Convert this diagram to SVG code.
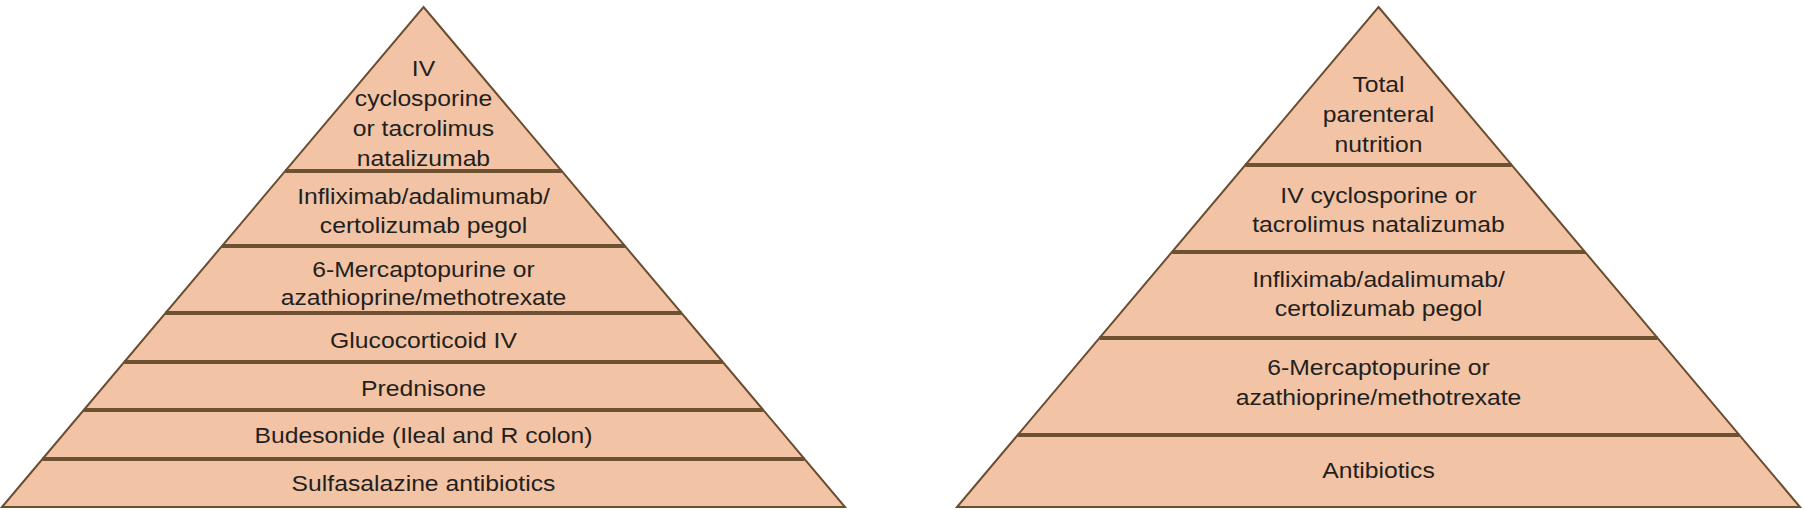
<svg xmlns="http://www.w3.org/2000/svg" width="1805" height="510" viewBox="0 0 1805 510">
<style>
.tier{fill:#f2c4a5;stroke:none}
.outline{fill:none;stroke:#6b4d30;stroke-width:2;stroke-linejoin:miter}
.sep{stroke:#6e5032;stroke-width:4}
.lbl{font-family:"Liberation Sans",Arial,Helvetica,sans-serif;font-size:21.5px;fill:#231f20;text-anchor:middle}
</style>
<rect width="1805" height="510" fill="#ffffff"/>
<g id="left-pyramid">
<g id="L1"><polygon class="tier" points="423.5,7 561.8,171 285.2,171"/>
<g transform="translate(423.5 0) scale(1.15 1)"><text class="lbl" x="0" y="76">IV</text><text class="lbl" x="0" y="106">cyclosporine</text><text class="lbl" x="0" y="136">or tacrolimus</text><text class="lbl" x="0" y="166">natalizumab</text></g></g>
<g id="L2"><polygon class="tier" points="285.2,171 561.8,171 625,246 222,246"/>
<g transform="translate(423.5 0) scale(1.15 1)"><text class="lbl" x="0" y="204">Infliximab/adalimumab/</text><text class="lbl" x="0" y="233">certolizumab pegol</text></g></g>
<g id="L3"><polygon class="tier" points="222,246 625,246 681.5,313 165.5,313"/>
<g transform="translate(423.5 0) scale(1.15 1)"><text class="lbl" x="0" y="277">6-Mercaptopurine or</text><text class="lbl" x="0" y="305">azathioprine/methotrexate</text></g></g>
<g id="L4"><polygon class="tier" points="165.5,313 681.5,313 722.8,362 124.2,362"/>
<g transform="translate(423.5 0) scale(1.15 1)"><text class="lbl" x="0" y="348">Glucocorticoid IV</text></g></g>
<g id="L5"><polygon class="tier" points="124.2,362 722.8,362 763.2,410 83.8,410"/>
<g transform="translate(423.5 0) scale(1.15 1)"><text class="lbl" x="0" y="396">Prednisone</text></g></g>
<g id="L6"><polygon class="tier" points="83.8,410 763.2,410 804.5,459 42.5,459"/>
<g transform="translate(423.5 0) scale(1.15 1)"><text class="lbl" x="0" y="443">Budesonide (Ileal and R colon)</text></g></g>
<g id="L7"><polygon class="tier" points="42.5,459 804.5,459 845,507 2,507"/>
<g transform="translate(423.5 0) scale(1.15 1)"><text class="lbl" x="0" y="491">Sulfasalazine antibiotics</text></g></g>
<g id="L-separators">
<line class="sep" x1="285.2" y1="171" x2="561.8" y2="171"/>
<line class="sep" x1="222" y1="246" x2="625" y2="246"/>
<line class="sep" x1="165.5" y1="313" x2="681.5" y2="313"/>
<line class="sep" x1="124.2" y1="362" x2="722.8" y2="362"/>
<line class="sep" x1="83.8" y1="410" x2="763.2" y2="410"/>
<line class="sep" x1="42.5" y1="459" x2="804.5" y2="459"/>
</g>
<polygon class="outline" points="423.5,7 845,507 2,507"/>
</g>
<g id="right-pyramid">
<g id="R1"><polygon class="tier" points="1378.5,7 1511.7,165 1245.3,165"/>
<g transform="translate(1378.5 0) scale(1.15 1)"><text class="lbl" x="0" y="92">Total</text><text class="lbl" x="0" y="122">parenteral</text><text class="lbl" x="0" y="152">nutrition</text></g></g>
<g id="R2"><polygon class="tier" points="1245.3,165 1511.7,165 1585,252 1172,252"/>
<g transform="translate(1378.5 0) scale(1.15 1)"><text class="lbl" x="0" y="203">IV cyclosporine or</text><text class="lbl" x="0" y="232">tacrolimus natalizumab</text></g></g>
<g id="R3"><polygon class="tier" points="1172,252 1585,252 1657.5,338 1099.5,338"/>
<g transform="translate(1378.5 0) scale(1.15 1)"><text class="lbl" x="0" y="287">Infliximab/adalimumab/</text><text class="lbl" x="0" y="316">certolizumab pegol</text></g></g>
<g id="R4"><polygon class="tier" points="1099.5,338 1657.5,338 1739.3,435 1017.7,435"/>
<g transform="translate(1378.5 0) scale(1.15 1)"><text class="lbl" x="0" y="375">6-Mercaptopurine or</text><text class="lbl" x="0" y="405">azathioprine/methotrexate</text></g></g>
<g id="R5"><polygon class="tier" points="1017.7,435 1739.3,435 1800,507 957,507"/>
<g transform="translate(1378.5 0) scale(1.15 1)"><text class="lbl" x="0" y="478">Antibiotics</text></g></g>
<g id="R-separators">
<line class="sep" x1="1245.3" y1="165" x2="1511.7" y2="165"/>
<line class="sep" x1="1172" y1="252" x2="1585" y2="252"/>
<line class="sep" x1="1099.5" y1="338" x2="1657.5" y2="338"/>
<line class="sep" x1="1017.7" y1="435" x2="1739.3" y2="435"/>
</g>
<polygon class="outline" points="1378.5,7 1800,507 957,507"/>
</g>
<g id="connectors"/>
</svg>
